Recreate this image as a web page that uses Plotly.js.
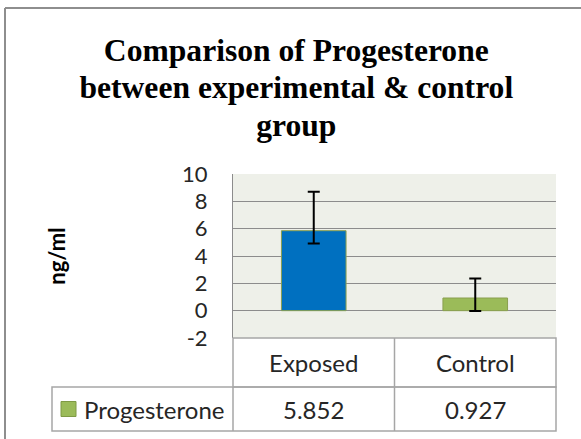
<!DOCTYPE html>
<html>
<head>
<meta charset="utf-8">
<script src="https://cdn.plot.ly/plotly-3.0.1.min.js"></script>
<style>html,body{margin:0;padding:0;background:#fff;}#chart{width:581px;height:439px;}</style>
</head>
<body>
<div id="chart"></div>
<script>
// ---- data ----
const categories = ['Exposed', 'Control'];
const seriesName = 'Progesterone';
const values = [5.852, 0.927];
const errPlus = [2.85, 1.43];
const errMinus = [0.93, 0.95];
const yTicks = [-2, 0, 2, 4, 6, 8, 10];
const yTickText = yTicks.map(v => String(v));
const titleLines = ['Comparison of Progesterone', 'between experimental &amp; control', 'group'];

// ---- layout geometry (pixels) ----
const W = 581, H = 439;
const M = {l: 233, r: 25, t: 174, b: 101};
const plotH = H - M.t - M.b;           // 164
const plotW = W - M.l - M.r;           // 323
const plotBottom = H - M.b;            // 338
const py = p => (plotBottom - p) / plotH;   // pixel y -> paper y
const px = p => (p - M.l) / plotW;          // pixel x -> paper x

const row1Bottom = py(387);
const row2Bottom = py(431);
const row2Mid = (row1Bottom + row2Bottom) / 2;
const tableLeft = px(52);
const gridGrey = '#8c8c8c';
const tableGrey = '#a6a6a6';
const textFont = {family: 'Lato, "Liberation Sans", sans-serif', size: 24, color: '#262626'};

const barColors = ['#0070C0', '#9BBB59'];

const trace = {
  type: 'bar',
  x: categories,
  y: values,
  name: seriesName,
  width: 0.4,
  marker: {color: barColors, line: {color: '#8a9f4f', width: 1}},
  error_y: {
    type: 'data', symmetric: false,
    array: errPlus, arrayminus: errMinus,
    color: '#000', thickness: 2, width: 6
  },
  hoverinfo: 'skip'
};

const frameLine = {color: '#8e8e8e', width: 2};
const shapes = [
  // outer chart frame (top and left edges visible in the crop)
  {type: 'line', xref: 'paper', yref: 'paper', x0: px(5), x1: px(600), y0: py(8), y1: py(8), line: frameLine, layer: 'above'},
  {type: 'line', xref: 'paper', yref: 'paper', x0: px(5), x1: px(5), y0: py(8), y1: py(460), line: frameLine, layer: 'above'},
  // category row
  {type: 'rect', xref: 'paper', yref: 'paper', x0: 0, x1: 1, y0: 0, y1: row1Bottom,
   line: {color: tableGrey, width: 1.5}, fillcolor: 'rgba(0,0,0,0)', layer: 'above'},
  // data row
  {type: 'rect', xref: 'paper', yref: 'paper', x0: tableLeft, x1: 1, y0: row1Bottom, y1: row2Bottom,
   line: {color: tableGrey, width: 1.5}, fillcolor: 'rgba(0,0,0,0)', layer: 'above'},
  // column dividers
  {type: 'line', xref: 'paper', yref: 'paper', x0: 0, x1: 0, y0: row1Bottom, y1: row2Bottom,
   line: {color: tableGrey, width: 1.5}, layer: 'above'},
  {type: 'line', xref: 'paper', yref: 'paper', x0: 0.5, x1: 0.5, y0: 0, y1: row2Bottom,
   line: {color: tableGrey, width: 1.5}, layer: 'above'},
  // legend key in the data table
  {type: 'rect', xref: 'paper', yref: 'paper', x0: px(61), x1: px(76), y0: row2Mid - 7.5 / plotH, y1: row2Mid + 7.5 / plotH,
   line: {color: '#7f9a45', width: 1}, fillcolor: barColors[1], layer: 'above'}
];

const annotations = categories.map((c, i) => ({
  xref: 'x', yref: 'paper', x: c, y: row2Mid,
  text: values[i].toFixed(3), showarrow: false,
  xanchor: 'center', yanchor: 'middle', font: textFont
}));
annotations.push({
  xref: 'paper', yref: 'paper', x: px(82), y: row2Mid,
  text: seriesName,
  showarrow: false, xanchor: 'left', yanchor: 'middle', font: textFont
});

const layout = {
  width: W, height: H,
  margin: M,
  paper_bgcolor: '#ffffff',
  plot_bgcolor: '#EEF0E9',
  showlegend: false,
  title: {
    text: titleLines.map(s => '<span style="font-size:31.6px">' + s + '</span>').join('<br>'),
    font: {family: '"Liberation Serif", "Times New Roman", serif', size: 28.7, color: '#000', weight: 'bold'},
    x: 0.51, xanchor: 'center',
    yref: 'container', y: 1 - 61 / H, yanchor: 'top'
  },
  xaxis: {
    type: 'category',
    showgrid: false, zeroline: false, showline: false,
    ticks: '', tickfont: textFont, ticklabelstandoff: 9,
    fixedrange: true
  },
  yaxis: {
    range: [-2, 10], tickvals: yTicks, ticktext: yTickText,
    showgrid: true, gridcolor: gridGrey, gridwidth: 1,
    zeroline: false, showline: true, linecolor: gridGrey, linewidth: 1,
    ticks: '', tickfont: {family: textFont.family, size: 22, color: '#262626'},
    ticklabelstandoff: 20,
    title: {text: 'ng/ml', font: {family: textFont.family, size: 22, color: '#000', weight: 'bold'}, standoff: 110},
    fixedrange: true
  },
  shapes: shapes,
  annotations: annotations
};

Plotly.newPlot('chart', [trace], layout, {displayModeBar: false, staticPlot: true});
</script>
</body>
</html>
